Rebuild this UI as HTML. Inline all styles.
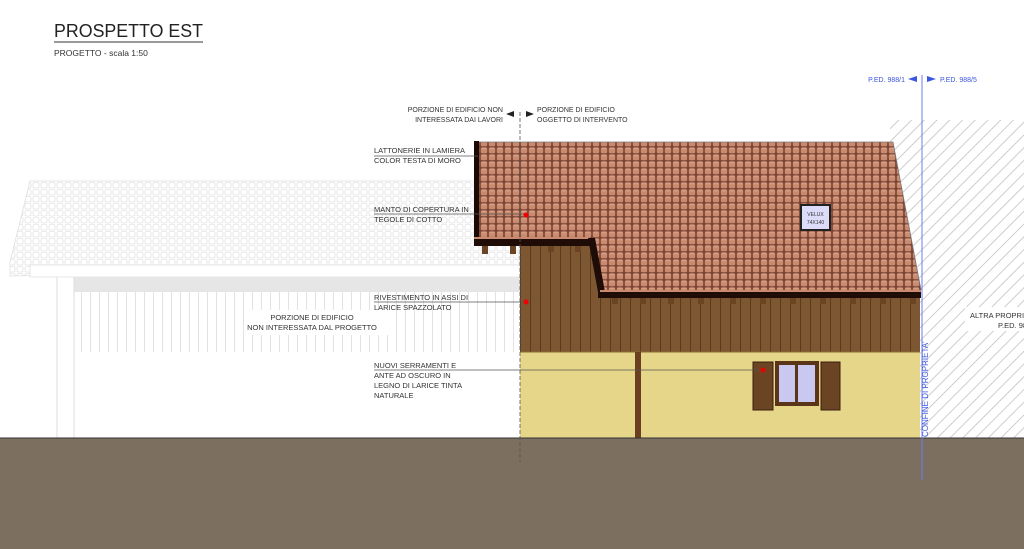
<!DOCTYPE html>
<html><head><meta charset="utf-8"><style>
html,body{margin:0;padding:0;background:#fff;width:1024px;height:549px;overflow:hidden}
svg{display:block}
text{font-family:"Liberation Sans",sans-serif;fill:#333}
</style></head><body>
<svg width="1024" height="549" viewBox="0 0 1024 549" xmlns="http://www.w3.org/2000/svg">
<defs>
<pattern id="tile" width="8" height="7" patternUnits="userSpaceOnUse">
<rect width="8" height="7" fill="#7a4534"/>
<rect x="0.8" y="0.4" width="6.4" height="5.8" rx="1.5" fill="#c98a70"/>
<rect x="1.5" y="0.5" width="5" height="2" fill="#d59a80"/>
</pattern>
<pattern id="gtile" width="8" height="7" patternUnits="userSpaceOnUse">
<rect width="8" height="7" fill="#fff"/>
<rect x="1" y="0.5" width="6" height="5.5" rx="1.5" fill="none" stroke="#d8d8d8" stroke-width="0.6"/>
</pattern>
<pattern id="wood" width="10" height="10" patternUnits="userSpaceOnUse">
<rect width="10" height="10" fill="#7d5632"/>
<rect x="0" width="1" height="10" fill="#5a3a1e"/>
</pattern>
<pattern id="gwood" width="9" height="10" patternUnits="userSpaceOnUse">
<rect width="9" height="10" fill="#fff"/>
<rect width="0.8" height="10" fill="#dcdcdc"/>
</pattern>
<pattern id="hatch" width="9" height="9" patternUnits="userSpaceOnUse" patternTransform="rotate(45)">
<rect width="9" height="9" fill="#fff"/>
<rect width="0.9" height="9" fill="#c8c8c8"/>
</pattern>
</defs>

<!-- title -->
<text x="54" y="37" font-size="18" textLength="149" lengthAdjust="spacingAndGlyphs" style="fill:#222">PROSPETTO EST</text>
<line x1="54" y1="42" x2="203" y2="42" stroke="#333" stroke-width="1"/>
<text x="54" y="56" font-size="8.5">PROGETTO  -  scala 1:50</text>

<!-- right hatch neighbour -->
<rect x="890" y="120" width="134" height="318" fill="url(#hatch)"/>
<rect x="965" y="307" width="59" height="24" fill="#fff"/>
<text x="970" y="318" font-size="7.5">ALTRA PROPRIETA'</text>
<text x="998" y="328" font-size="7.5">P.ED. 988</text>

<!-- left grey building -->
<polygon points="30,181 520,181 520,266 10,276 10,262" fill="url(#gtile)" stroke="#ddd" stroke-width="0.7"/>
<rect x="30" y="265" width="490" height="12" fill="#fff" stroke="#ddd" stroke-width="0.7"/>
<rect x="74" y="277" width="446" height="15" fill="#e6e6e6"/>
<rect x="74" y="292" width="446" height="60" fill="url(#gwood)"/>
<line x1="57" y1="277" x2="57" y2="438" stroke="#ddd"/>
<line x1="74" y1="277" x2="74" y2="438" stroke="#ddd"/>
<rect x="250" y="310" width="140" height="25" fill="#fff"/>
<text x="312" y="320" font-size="7.5" text-anchor="middle">PORZIONE DI EDIFICIO</text>
<text x="312" y="330" font-size="7.5" text-anchor="middle">NON INTERESSATA DAL PROGETTO</text>

<!-- walls -->
<polygon points="520,246 600,246 600,298 920,298 920,353 520,353" fill="url(#wood)"/>
<rect x="520" y="352" width="400" height="86" fill="#e6d68a"/>
<line x1="520" y1="352" x2="920" y2="352" stroke="#8a6a30" stroke-width="1"/>
<rect x="635" y="352" width="6" height="86" fill="#6b4020"/>

<!-- rafters -->
<g fill="#6b4424">
<rect x="482" y="246" width="6" height="8"/><rect x="510" y="246" width="6" height="8"/>
<rect x="548" y="246" width="6" height="6"/><rect x="575" y="246" width="6" height="6"/>
<rect x="612" y="298" width="6" height="6"/><rect x="640" y="298" width="6" height="6"/><rect x="668" y="298" width="6" height="6"/><rect x="698" y="298" width="6" height="6"/><rect x="730" y="298" width="6" height="6"/><rect x="760" y="298" width="6" height="6"/><rect x="790" y="298" width="6" height="6"/><rect x="820" y="298" width="6" height="6"/><rect x="850" y="298" width="6" height="6"/><rect x="880" y="298" width="6" height="6"/><rect x="910" y="298" width="6" height="6"/>
</g>

<!-- main roof -->
<polygon points="478,142 893,142 921,290 600,290 590,238 478,238" fill="url(#tile)"/>
<polyline points="478,142 893,142 921,290" fill="none" stroke="#777" stroke-width="0.8"/>
<rect x="474" y="141" width="5" height="104" fill="#1a0a05"/>
<rect x="474" y="237" width="116" height="9" fill="#1f0c06"/>
<rect x="474" y="237" width="116" height="2" fill="#c98a70"/>
<polygon points="588,238 595,238 605,292 598,292" fill="#1f0c06"/>
<rect x="598" y="290" width="323" height="8" fill="#1f0c06"/>
<rect x="600" y="290" width="321" height="2" fill="#c98a70"/>

<!-- velux -->
<rect x="800" y="204" width="31" height="27" fill="#222"/>
<rect x="802" y="206" width="27" height="23" fill="#dcdcf8"/>
<text x="815.5" y="216" font-size="5" text-anchor="middle">VELUX</text>
<text x="815.5" y="224" font-size="5" text-anchor="middle">74X140</text>

<!-- window -->
<rect x="753" y="362" width="20" height="48" fill="#6b4424" stroke="#3a2010" stroke-width="1"/>
<rect x="821" y="362" width="19" height="48" fill="#6b4424" stroke="#3a2010" stroke-width="1"/>
<rect x="775" y="361" width="44" height="45" fill="#5a3518"/>
<rect x="779" y="365" width="16" height="37" fill="#c8c8f0"/>
<rect x="798" y="365" width="17" height="37" fill="#c8c8f0"/>

<!-- ground -->
<rect x="0" y="438" width="1024" height="111" fill="#7d6f5f"/>
<line x1="0" y1="438" x2="1024" y2="438" stroke="#333" stroke-width="1"/>

<!-- dashed division line -->
<line x1="520" y1="112" x2="520" y2="462" stroke="#555" stroke-width="0.8" stroke-dasharray="4,2"/>
<text x="503" y="112" font-size="7" text-anchor="end">PORZIONE DI EDIFICIO NON</text>
<text x="503" y="122" font-size="7" text-anchor="end">INTERESSATA DAI LAVORI</text>
<text x="537" y="112" font-size="7">PORZIONE DI EDIFICIO</text>
<text x="537" y="122" font-size="7">OGGETTO DI INTERVENTO</text>
<polygon points="506,114 514,111 514,117" fill="#222"/>
<polygon points="534,114 526,111 526,117" fill="#222"/>

<!-- boundary -->
<line x1="922" y1="75" x2="922" y2="480" stroke="#6b7cf0" stroke-width="1"/>
<text x="905" y="82" font-size="7" text-anchor="end" style="fill:#3b56e0">P.ED. 988/1</text>
<polygon points="908,79 917,76 917,82" fill="#3b56e0"/>
<polygon points="936,79 927,76 927,82" fill="#3b56e0"/>
<text x="940" y="82" font-size="7" style="fill:#3b56e0">P.ED. 988/5</text>
<text x="0" y="0" font-size="8" transform="translate(928,437) rotate(-90)" style="fill:#3b56e0">CONFINE DI PROPRIETA'</text>

<!-- leaders -->
<g stroke="#555" stroke-width="0.7">
<line x1="374" y1="156" x2="478" y2="156"/>
<line x1="374" y1="214" x2="526" y2="214"/>
<line x1="374" y1="302" x2="526" y2="302"/>
<line x1="374" y1="370" x2="763" y2="370"/>
</g>
<g font-size="7.5">
<text x="374" y="153">LATTONERIE IN LAMIERA</text>
<text x="374" y="163">COLOR TESTA DI MORO</text>
<text x="374" y="212">MANTO DI COPERTURA IN</text>
<text x="374" y="222">TEGOLE DI COTTO</text>
<text x="374" y="300">RIVESTIMENTO IN ASSI DI</text>
<text x="374" y="310">LARICE SPAZZOLATO</text>
<text x="374" y="368">NUOVI SERRAMENTI E</text>
<text x="374" y="378">ANTE AD OSCURO IN</text>
<text x="374" y="388">LEGNO DI LARICE TINTA</text>
<text x="374" y="398">NATURALE</text>
</g>
<g fill="#e00">
<circle cx="526" cy="215" r="2.5"/><circle cx="526" cy="302" r="2.5"/><circle cx="763" cy="370" r="2.5"/>
</g>
</svg>
</body></html>
